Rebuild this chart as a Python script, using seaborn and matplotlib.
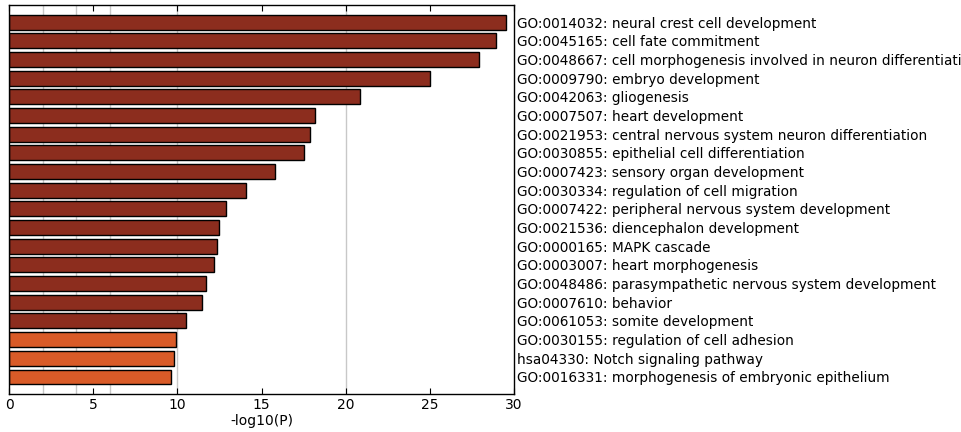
import seaborn as sns
import matplotlib.pyplot as plt
import pandas as pd

terms = [
    'GO:0014032: neural crest cell development',
    'GO:0045165: cell fate commitment',
    'GO:0048667: cell morphogenesis involved in neuron differentiation',
    'GO:0009790: embryo development',
    'GO:0042063: gliogenesis',
    'GO:0007507: heart development',
    'GO:0021953: central nervous system neuron differentiation',
    'GO:0030855: epithelial cell differentiation',
    'GO:0007423: sensory organ development',
    'GO:0030334: regulation of cell migration',
    'GO:0007422: peripheral nervous system development',
    'GO:0021536: diencephalon development',
    'GO:0000165: MAPK cascade',
    'GO:0003007: heart morphogenesis',
    'GO:0048486: parasympathetic nervous system development',
    'GO:0007610: behavior',
    'GO:0061053: somite development',
    'GO:0030155: regulation of cell adhesion',
    'hsa04330: Notch signaling pathway',
    'GO:0016331: morphogenesis of embryonic epithelium',
]
logp = [29.5, 28.9, 27.9, 25.0, 20.85, 18.2, 17.9, 17.5, 15.8, 14.05,
        12.9, 12.5, 12.35, 12.15, 11.7, 11.45, 10.5, 9.9, 9.8, 9.6]
# dark red for p < 1e-10, orange otherwise
colors = ['#8C2D1E' if v >= 10 else '#D95B28' for v in logp]
thresholds = [2, 4, 6, 10, 20]

df = pd.DataFrame({'term': terms, 'logp': logp})

sns.set_style('white')
plt.rcParams['font.family'] = ['DejaVu Sans']
plt.rcParams['text.color'] = 'black'
plt.rcParams['xtick.color'] = 'black'
plt.rcParams['ytick.color'] = 'black'
plt.rcParams['axes.labelcolor'] = 'black'

fig = plt.figure(figsize=(9.61, 4.32), dpi=100)
ax = fig.add_axes([0.0094, 0.088, 0.5255, 0.9])

for t in thresholds:
    ax.axvline(t, color='#c8c8c8', lw=1, zorder=0)

sns.barplot(data=df, x='logp', y='term', hue='term', palette=colors,
            legend=False, orient='h', width=0.8, edgecolor='black',
            linewidth=1, saturation=1, ax=ax, zorder=2)

ax.set_xlim(0, 30)
ax.set_ylim(19.91, -0.91)
ax.set_xticks([0, 5, 10, 15, 20, 25, 30])
ax.tick_params(axis='x', direction='in', top=True, bottom=True, length=4,
               labelsize=10, color='black', labelcolor='black', pad=3)
ax.yaxis.tick_right()
ax.tick_params(axis='y', length=0, labelsize=9.8, labelcolor='black', pad=2)
ax.set_ylabel('')
ax.set_xlabel('-log10(P)', fontsize=10, labelpad=1, color='black')
for s in ax.spines.values():
    s.set_color('black')
    s.set_linewidth(1)

fig.savefig('out.png', dpi=100)
